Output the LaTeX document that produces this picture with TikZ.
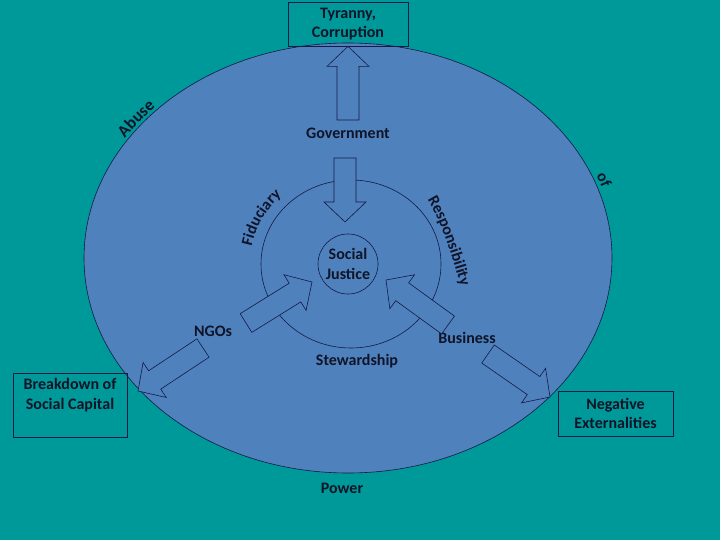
\documentclass[tikz,border=0pt]{standalone}
\usepackage{fontspec}
\setmainfont{Carlito}
\usetikzlibrary{calc,decorations.text}

\definecolor{slidebg}{RGB}{0,153,153}
\definecolor{ovalblue}{RGB}{79,129,189}
\definecolor{inkline}{RGB}{20,25,70}
\definecolor{inktext}{RGB}{15,20,40}

\newcommand{\labfont}{\fontsize{16}{19.5}\selectfont\bfseries}
\newcommand{\bigfont}{\fontsize{17}{20}\selectfont\bfseries}

% block arrow from tail (#1) to tip (#2)
\newcommand{\blockarrow}[2]{%
  \coordinate (hb) at ($(#2)!20pt!(#1)$);
  \draw[blockarr] ($(#1)!11pt!90:(#2)$) -- ($(hb)!11pt!-90:(#1)$) -- ($(hb)!21pt!-90:(#1)$)
    -- (#2) -- ($(hb)!21pt!90:(#1)$) -- ($(hb)!11pt!90:(#1)$) -- ($(#1)!11pt!-90:(#2)$) -- cycle;}

\begin{document}
\begin{tikzpicture}[x=1pt,y=-1pt,
    lab/.style={text=inktext,font=\labfont,inner sep=0pt},
    box/.style={draw=inkline,line width=0.8pt,text=inktext,font=\labfont,align=center,inner sep=0pt},
    blockarr/.style={draw=inkline,fill=ovalblue,line width=0.6pt,line join=miter},
    curvetext/.style={decorate,decoration={text along path,text align=center,text color=inktext}}]

  \useasboundingbox (0,0) rectangle (720,540);
  \fill[slidebg] (0,0) rectangle (720,540);

  % oval and rings
  \draw[inkline,fill=ovalblue,line width=0.6pt] (348,258) ellipse [x radius=264,y radius=215];
  \draw[inkline,line width=0.6pt] (351,264) ellipse [x radius=90,y radius=84];
  \node[lab,draw=inkline,circle,minimum size=60pt,align=center,line width=0.6pt] (justice) at (348,264) {Social\\Justice};

  % boxes
  \node[box,minimum width=120pt,minimum height=44pt] (tyranny) at (348,24) {Tyranny,\\Corruption};
  \node[box,minimum width=114pt,minimum height=64pt] (breakdown) at (70,405) {};
  \node[lab,align=center] (breakdowntxt) at (70,395) {Breakdown of\\Social Capital};
  \node[box,minimum width=115pt,minimum height=45pt] (negext) at (615.5,413.5) {Negative\\Externalities};

  % labels
  \node[lab] (gov) at (348,133) {Government};
  \node[lab] (ngos) at (213,331) {NGOs};
  \node[lab] (business) at (467,338) {Business};
  \node[lab] (stew) at (357,361) {Stewardship};
  \node[lab] (power) at (342,488) {Power};

  % arrows
  \coordinate (tyrtail) at (348,120);
  \coordinate (govtail) at (345,158);
  \coordinate (govtip) at (345,222);
  \coordinate (ngotail) at (246,323);
  \coordinate (ngotip) at (312,282);
  \coordinate (bustail) at (448,325);
  \coordinate (bustip) at (386,280);
  \coordinate (ngoout) at (203,348);
  \coordinate (ngooutip) at (138,391);
  \coordinate (busout) at (488,354);
  \coordinate (busoutip) at (550,397);
  \blockarrow{tyrtail}{tyranny.south}
  \blockarrow{govtail}{govtip}
  \blockarrow{ngotail}{ngotip}
  \blockarrow{bustail}{bustip}
  \blockarrow{ngoout}{ngooutip}
  \blockarrow{busout}{busoutip}

  % curved words
  \path[curvetext,decoration={text={|\bigfont|Abuse}}]
    (348,258) ++(-162:267 and 218) arc [start angle=-162,end angle=-122,x radius=267,y radius=218];
  \path[curvetext,decoration={text={|\labfont|of}}]
    (348,258) ++(-35:268 and 219) arc [start angle=-35,end angle=-5,x radius=268,y radius=219];
  \path[curvetext,decoration={text={|\labfont|Fiduciary}}]
    (348,264) ++(-177:98 and 93) arc [start angle=-177,end angle=-125,x radius=98,y radius=93];
  \path[curvetext,decoration={text={|\labfont|Responsibility}}]
    (424,194) .. controls (444,226) and (452,258) .. (463,293);
\end{tikzpicture}
\end{document}
